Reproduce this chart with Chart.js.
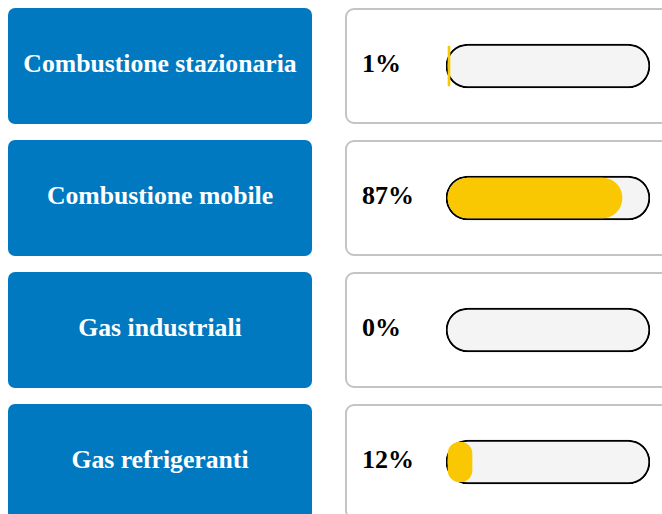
<!DOCTYPE html>
<html>
<head>
<meta charset="utf-8">
<script src="https://cdn.jsdelivr.net/npm/chart.js@4/dist/chart.umd.min.js"></script>
<style>
  html, body { margin: 0; padding: 0; background: #fff; overflow: hidden; width: 662px; height: 514px; }
  .box { position: absolute; box-sizing: border-box; height: 116px; display: flex; align-items: center;
         font-family: "Liberation Serif", "Times New Roman", serif; font-weight: bold; padding-bottom: 5px; }
  .cat { left: 8px; width: 304px; background: #0079c0; color: #fff; border-radius: 7px; justify-content: center; font-size: 25.7px; }
  .val { left: 345px; width: 330px; border: 2px solid #c4c4c4; border-radius: 9px; color: #000; padding-left: 15px; font-size: 26px; }
  #wrap { position: absolute; left: 446px; top: 0; width: 204px; height: 528px; }
</style>
</head>
<body>
<div id="rows"></div>
<div id="wrap"><canvas id="bars"></canvas></div>
<script>
// dati
const categorie = ["Combustione stazionaria", "Combustione mobile", "Gas industriali", "Gas refrigeranti"];
const percentuali = [1, 87, 0, 12];

const rows = document.getElementById("rows");
categorie.forEach((c, i) => {
  const top = 8 + i * 132;
  const a = document.createElement("div");
  a.className = "box cat";
  a.style.top = top + "px";
  a.textContent = c;
  rows.appendChild(a);
  const b = document.createElement("div");
  b.className = "box val";
  b.style.top = top + "px";
  b.textContent = percentuali[i] + "%";
  rows.appendChild(b);
});

// barra di sfondo da -1 a 101 (il bordo nero sta fuori dallo 0-100)
const traccia = categorie.map(() => [-1, 101]);

new Chart(document.getElementById("bars"), {
  type: "bar",
  data: {
    labels: categorie,
    datasets: [
      {
        label: "valore",
        data: percentuali.map((v) => (v > 0 ? v : null)),
        backgroundColor: "#f9c802",
        borderWidth: 0,
        borderRadius: 20,
        borderSkipped: false,
        barThickness: 40,
        grouped: false,
        order: 0,
      },
      {
        label: "traccia",
        data: traccia,
        backgroundColor: "#f4f4f4",
        borderColor: "#000",
        borderWidth: 2,
        borderRadius: 22,
        borderSkipped: false,
        barThickness: 44,
        grouped: false,
        order: 1,
      },
    ],
  },
  options: {
    indexAxis: "y",
    responsive: true,
    maintainAspectRatio: false,
    animation: false,
    layout: { padding: 0 },
    plugins: { legend: { display: false }, tooltip: { enabled: false } },
    scales: {
      x: { display: false, min: -1, max: 101 },
      y: { display: false },
    },
  },
});
</script>
</body>
</html>
